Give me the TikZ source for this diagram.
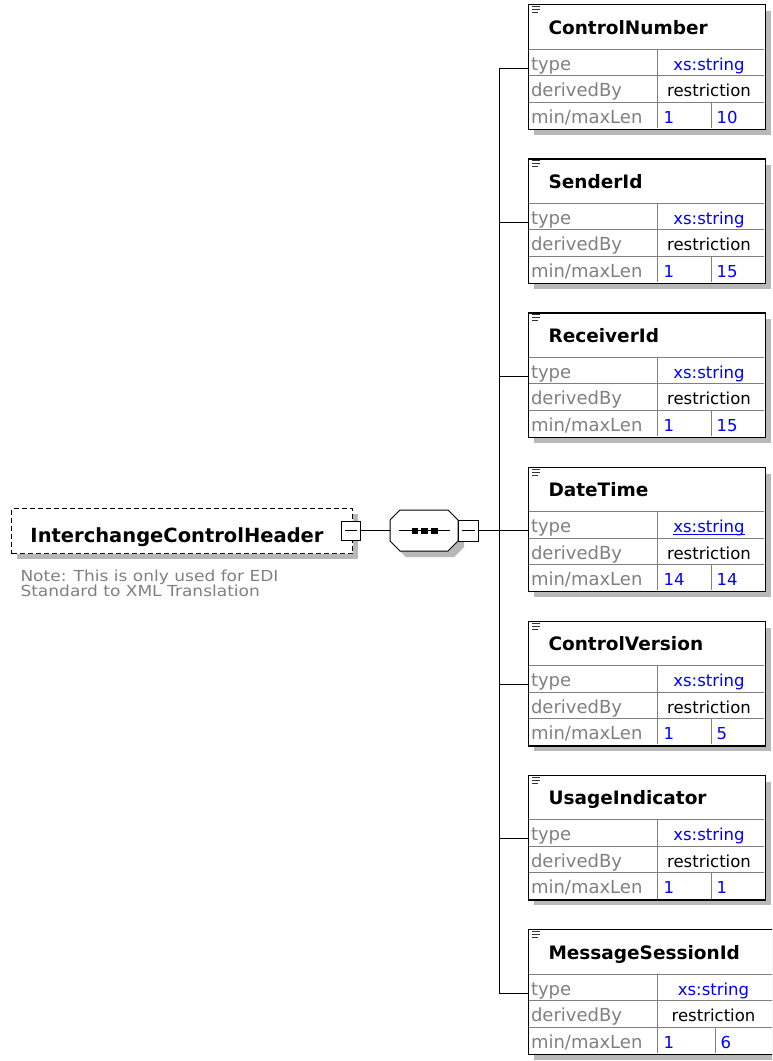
\documentclass[tikz,border=0pt]{standalone}
\usepackage{fontspec}
\setmainfont{DejaVu Sans}
\newfontfamily\notefont{DejaVu Sans}[FakeStretch=1.12]
\definecolor{shad}{RGB}{184,184,184}
\definecolor{lbl}{RGB}{128,128,128}
\definecolor{gridc}{RGB}{128,128,128}
\definecolor{val}{RGB}{0,0,255}
\newcommand\elem[7]{%
 \begin{scope}[shift={(0,#2)}]
  \fill[shad] (534,7) rectangle ({#6+6},130.5);
  \node[ebox, minimum width={(#6-528)*1pt}, minimum height=124.5pt] (#1) at (528,0) {};
  \draw[gridl] (528.7,45) -- ({#6-0.7},45);
  \draw[gridl] (528.7,71.5) -- ({#6-0.7},71.5);
  \draw[gridl] (528.7,98) -- ({#6-0.7},98);
  \draw[gridl] (657,45) -- (657,123.8);
  \draw[gridl] (#7,98) -- (#7,123.8);
  \draw[line width=1pt, black!80] (532,2.5) -- (540,2.5) (532,5.5) -- (540,5.5) (532,8.5) -- (538,8.5);
  \coordinate (#1a) at (528,64);
  \coordinate (#1k) at (499,64);
  \node[ttl] (#1n) at (548,30) {#3};
  \node[lab] (#1l1) at (530.5,66) {type};
  \node[lab] (#1l2) at (530.5,92.5) {derivedBy};
  \node[lab] (#1l3) at (530.5,119) {min/maxLen};
  \node[valb, anchor=base] (#1t) at ({(657+#6)/2-2},66) {xs:string};
  \node[valk, anchor=base] (#1d) at ({(657+#6)/2-2},92.5) {restriction};
  \node[valb, anchor=base west] (#1m) at (663,119) {#4};
  \node[valb, anchor=base west] (#1x) at ({#7+5},119) {#5};
 \end{scope}}
\begin{document}
\begin{tikzpicture}[x=1pt,y=-1pt, line width=1pt,
 ttl/.style={font=\fontsize{18.5}{20}\selectfont\bfseries, inner sep=0, anchor=base west},
 lab/.style={font=\fontsize{18}{20}\selectfont, text=lbl, inner sep=0, anchor=base west},
 valb/.style={font=\fontsize{16.5}{20}\selectfont, text=val, inner sep=0},
 valk/.style={font=\fontsize{16.5}{20}\selectfont, text=black, inner sep=0},
 gridl/.style={draw=gridc, line width=1pt},
 ebox/.style={draw=black, fill=white, inner sep=0, anchor=north west, line width=1.4pt},
 mbox/.style={draw=black, fill=white, inner sep=0, line width=1pt},
 notef/.style={font=\notefont\fontsize{15.2}{16}\selectfont, text=lbl, inner sep=0, anchor=base west}
]
\useasboundingbox (0,0) rectangle (772,1061);
\clip (0,0) rectangle (772,1061);
\fill[white] (0,0) rectangle (772,1061);

% root element
\fill[shad] (17,514) rectangle (358,559);
\node[draw=black, fill=white, dash pattern=on 5pt off 3pt, line width=1.3pt, inner sep=0,
      minimum width=341pt, minimum height=45pt, anchor=north west] (root) at (11,508) {};
\node[font=\fontsize{19.5}{22}\selectfont\bfseries, inner sep=0, anchor=base west] (rootlabel) at (30,542) {InterchangeControlHeader};
\node[mbox, minimum width=19pt, minimum height=19pt] (rm) at (350.5,530.5) {};
\draw ([xshift=4pt]rm.west) -- ([xshift=-4pt]rm.east);
\node[notef] (note1) at (20,581) {Note: This is only used for EDI};
\node[notef] (note2) at (20,596.5) {Standard to XML Translation};

% sequence compositor
\fill[shad] (406,516) -- (454,516) -- (464,526) -- (464,547) -- (454,557) -- (406,557) -- (396,547) -- (396,526) -- cycle;
\draw[fill=white] (400,510) -- (448,510) -- (458,520) -- (458,541) -- (448,551) -- (400,551) -- (390,541) -- (390,520) -- cycle;
\node[inner sep=0, minimum width=68pt, minimum height=41pt] (seq) at (424,530.5) {};
\draw (399,530.5) -- (450,530.5);
\fill (411.5,527.5) rectangle (418,533.5);
\fill (421,527.5) rectangle (427.5,533.5);
\fill (430.5,527.5) rectangle (437.5,533.5);
\node[mbox, minimum width=20pt, minimum height=21pt] (sm) at (468,530.5) {};
\draw ([xshift=4pt]sm.west) -- ([xshift=-4pt]sm.east);
\draw (rm.east) -- (seq.west);

% child elements
\elem{b0}{4}{ControlNumber}{1}{10}{765}{711}
\elem{b1}{158.17}{SenderId}{1}{15}{765}{711}
\elem{b2}{312.33}{ReceiverId}{1}{15}{765}{711}
\elem{b3}{466.5}{DateTime}{14}{14}{765}{711}
\elem{b4}{620.67}{ControlVersion}{1}{5}{765}{711}
\elem{b5}{774.83}{UsageIndicator}{1}{1}{765}{711}
\elem{b6}{929}{MessageSessionId}{1}{6}{774}{715}
\draw[val, line width=1pt] ([yshift=-1.8pt]b3t.base west) -- ([yshift=-1.8pt]b3t.base east);

% connectors
\coordinate (bus) at (499,530.5);
\draw (sm.east) -- (bus);
\draw (b0k) -- (b6k);
\foreach \i in {0,...,6} { \draw (b\i k) -- (b\i a); }
\end{tikzpicture}
\end{document}
